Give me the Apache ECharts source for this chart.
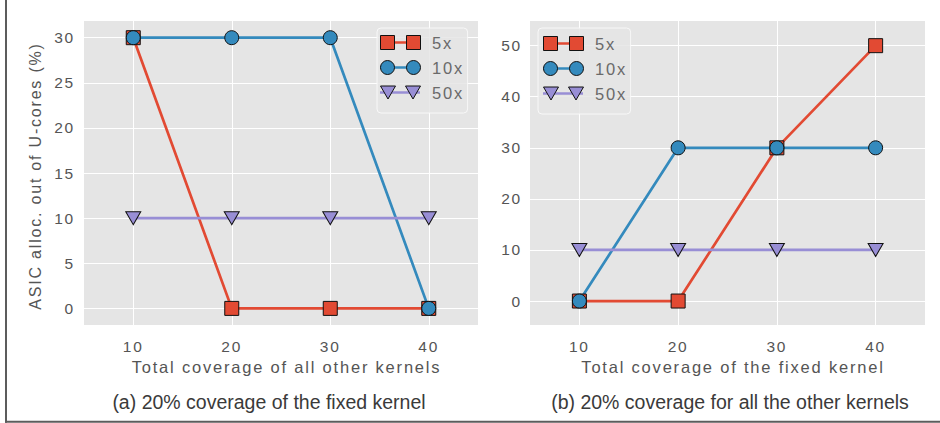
<!DOCTYPE html>
<html>
<head>
<meta charset="utf-8">
<title>asic alloc</title>
<script src="https://cdn.jsdelivr.net/npm/echarts@6/dist/echarts.min.js"></script>
<style>
  html, body { margin: 0; padding: 0; background: #fff; }
  #chart { width: 940px; height: 423px; }
  /* matplotlib text is a bit tracked out, captions are not */
  #chart text { letter-spacing: 1.8px; }
  #chart text[style*="19.5px"] { letter-spacing: 0; }
</style>
</head>
<body>
<div id="chart"></div>
<script>
var xVals = [10, 20, 30, 40];
var names = ['5x', '10x', '50x'];

// (a) 20% coverage of the fixed kernel
var aFive = [30, 0, 0, 0];
var aTen = [30, 30, 30, 0];
var aFifty = [10, 10, 10, 10];

// (b) 20% coverage for all the other kernels
var bFive = [0, 0, 30, 50];
var bTen = [0, 30, 30, 30];
var bFifty = [10, 10, 10, 10];

var colors = ['#E24A33', '#348ABD', '#988ED5'];
var font = 'Liberation Sans';

function pairs(ys) {
    return xVals.map(function (x, i) { return [x, ys[i]]; });
}

function line(name, idx, ys, color, symbol, size, rotate) {
    return {
        type: 'line', name: name, xAxisIndex: idx, yAxisIndex: idx,
        data: pairs(ys),
        symbol: symbol, symbolSize: size, symbolRotate: rotate || 0,
        showAllSymbol: true,
        lineStyle: { color: color, width: 2.7 },
        itemStyle: { color: color, borderColor: '#111', borderWidth: 1 },
        emphasis: { disabled: true }
    };
}

// line part of the legend icons
var lineIcon = 'path://M0,0h40v2.7h-40z';
// marker pairs of the legend icons
var markIcons = [
    'path://M0,0h14v14h-14z M26,0h14v14h-14z',
    'path://M0,7a7,7 0 1,0 14,0a7,7 0 1,0 -14,0z M26,7a7,7 0 1,0 14,0a7,7 0 1,0 -14,0z',
    'path://M0,0L15,0L7.5,13z M25,0L40,0L32.5,13z'
];

function legendPair(left, top, padding) {
    var base = {
        orient: 'vertical', left: left, top: top, padding: padding,
        itemWidth: 40, itemHeight: 15, itemGap: 8,
        selectedMode: false
    };
    var lines = Object.assign({}, base, {
        data: names.map(function (n) { return { name: n, icon: lineIcon }; }),
        itemStyle: { borderWidth: 0 },
        textStyle: { fontFamily: font, fontSize: 16.5, color: '#6a6a6a', lineHeight: 15, padding: [0, 0, 0, 7] },
        backgroundColor: 'rgba(229,229,229,0.85)',
        borderColor: 'rgba(250,250,250,0.9)', borderWidth: 1, borderRadius: 4
    });
    var marks = Object.assign({}, base, {
        data: names.map(function (n, i) { return { name: n, icon: markIcons[i] }; }),
        itemStyle: { borderWidth: 1, borderColor: '#111' },
        textStyle: { fontFamily: font, fontSize: 16.5, color: 'rgba(0,0,0,0)', lineHeight: 15, padding: [0, 0, 0, 7] }
    });
    return [lines, marks];
}

function xAxis(idx, name) {
    return {
        type: 'value', gridIndex: idx, min: 5, max: 45, minInterval: 10, maxInterval: 10,
        name: name, nameLocation: 'middle', nameGap: 33,
        nameTextStyle: { fontFamily: font, fontSize: 16.5, color: '#555', padding: [0, 0, 0, 11] },
        axisLine: { show: false }, axisTick: { show: false },
        axisLabel: { margin: 13, fontFamily: font, fontSize: 15.5, color: '#555', showMinLabel: false, showMaxLabel: false },
        splitLine: { lineStyle: { color: '#fff', width: 1 }, showMinLine: false, showMaxLine: false }
    };
}

function yAxis(idx, min, max, step, margin) {
    return {
        type: 'value', gridIndex: idx, min: min, max: max, minInterval: step, maxInterval: step,
        axisLine: { show: false }, axisTick: { show: false },
        axisLabel: { margin: margin, fontFamily: font, fontSize: 15.5, color: '#555', showMinLabel: false, showMaxLabel: false },
        splitLine: { lineStyle: { color: '#fff', width: 1 }, showMinLine: false, showMaxLine: false }
    };
}

var yA = yAxis(0, -1.84, 31.85, 5, 9);
yA.name = 'ASIC alloc. out of U-cores (%)';
yA.nameLocation = 'middle';
yA.nameGap = 41;
yA.nameTextStyle = { fontFamily: font, fontSize: 16, color: '#555', padding: [0, 6, 0, 0] };

var legendsA = legendPair(377, 28, [6, 9, 12, 3]);
var legendsB = legendPair(538, 28, [7, 9, 12, 5]);

var myChart = echarts.init(document.getElementById('chart'), null, { renderer: 'svg' });
var option = {
    animation: false,
    backgroundColor: '#fff',
    textStyle: { fontFamily: font },
    grid: [
        { left: 84, top: 21, width: 394, height: 304, show: true, backgroundColor: '#E5E5E5', borderWidth: 0 },
        { left: 530, top: 21, width: 395, height: 304, show: true, backgroundColor: '#E5E5E5', borderWidth: 0 }
    ],
    xAxis: [
        xAxis(0, 'Total coverage of all other kernels'),
        xAxis(1, 'Total coverage of the fixed kernel')
    ],
    yAxis: [
        yA,
        yAxis(1, -4.69, 54.83, 10, 8)
    ],
    legend: legendsA.concat(legendsB),
    series: [
        line('5x', 0, aFive, colors[0], 'rect', 14),
        line('10x', 0, aTen, colors[1], 'circle', 14),
        line('50x', 0, aFifty, colors[2], 'triangle', [15, 13], 180),
        line('5x', 1, bFive, colors[0], 'rect', 14),
        line('10x', 1, bTen, colors[1], 'circle', 14),
        line('50x', 1, bFifty, colors[2], 'triangle', [15, 13], 180)
    ],
    graphic: [
        { type: 'line', shape: { x1: 6, y1: 0, x2: 6, y2: 422.7 }, style: { stroke: '#5c5c5c', lineWidth: 2 } },
        { type: 'line', shape: { x1: 5, y1: 421.7, x2: 940, y2: 421.7 }, style: { stroke: '#5c5c5c', lineWidth: 2 } },
        { type: 'text', x: 269, y: 402, style: { text: '(a) 20% coverage of the fixed kernel', align: 'center', verticalAlign: 'middle', fontFamily: font, fontSize: 19.5, fill: '#3a3a3a' } },
        { type: 'text', x: 730, y: 402, style: { text: '(b) 20% coverage for all the other kernels', align: 'center', verticalAlign: 'middle', fontFamily: font, fontSize: 19.5, fill: '#3a3a3a' } }
    ]
};
myChart.setOption(option);
</script>
</body>
</html>
